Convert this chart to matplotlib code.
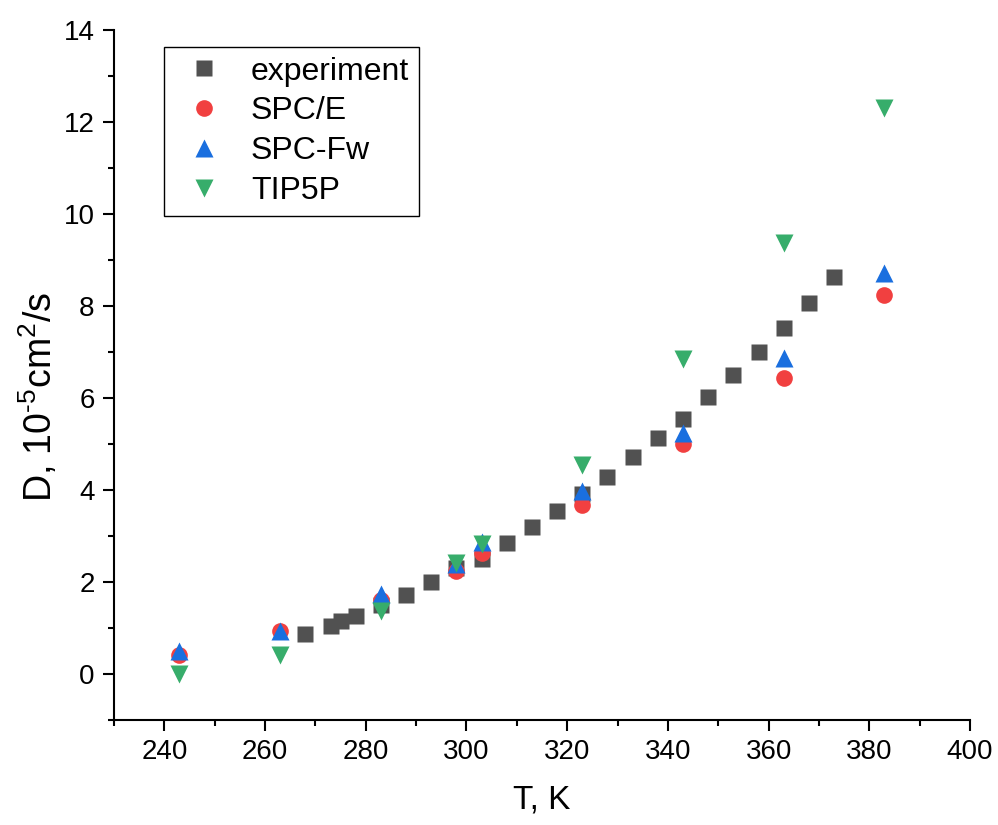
import matplotlib
matplotlib.use("Agg")
import matplotlib.pyplot as plt
from matplotlib.ticker import MultipleLocator

plt.rcParams['font.family'] = ['Liberation Sans', 'DejaVu Sans']
plt.rcParams['mathtext.fontset'] = 'custom'
plt.rcParams['mathtext.rm'] = 'Liberation Sans'

# experimental self-diffusion of water
T_exp = [268, 273, 275, 278, 283, 288, 293, 298, 303, 308, 313, 318,
         323, 328, 333, 338, 343, 348, 353, 358, 363, 368, 373]
D_exp = [0.87, 1.05, 1.16, 1.26, 1.50, 1.72, 1.99, 2.30, 2.51, 2.85, 3.20, 3.54,
         3.91, 4.29, 4.72, 5.12, 5.55, 6.03, 6.51, 7.00, 7.52, 8.06, 8.62]

# simulated models
T_sim = [243, 263, 283, 298, 303, 323, 343, 363, 383]
D_spce = [0.41, 0.93, 1.61, 2.24, 2.62, 3.67, 5.00, 6.44, 8.24]
D_spcfw = [0.50, 0.94, 1.75, 2.40, 2.87, 3.97, 5.25, 6.88, 8.71]
D_tip5p = [0.00, 0.41, 1.36, 2.42, 2.83, 4.55, 6.84, 9.36, 12.31]

fig = plt.figure(figsize=(9.98, 8.25), dpi=100)
ax = fig.add_axes([114 / 998, 1 - 720 / 825, (970 - 114) / 998, (720 - 30) / 825])

ax.plot(T_exp, D_exp, 's', color='#515151', ms=11.5, mec='none', label='experiment')
ax.plot(T_sim, D_spce, 'o', color='#F14040', ms=12, mec='none', label='SPC/E')
ax.plot(T_sim, D_spcfw, '^', color='#1A6FDF', ms=13, mec='none', label='SPC-Fw')
ax.plot(T_sim, D_tip5p, 'v', color='#37AD6B', ms=13, mec='none', label='TIP5P')

ax.set_xlim(230, 400)
ax.set_ylim(-1, 14)
ax.xaxis.set_major_locator(MultipleLocator(20))
ax.xaxis.set_minor_locator(MultipleLocator(10))
ax.yaxis.set_major_locator(MultipleLocator(2))
ax.yaxis.set_minor_locator(MultipleLocator(1))

for side in ['top', 'right']:
    ax.spines[side].set_visible(False)
for side in ['left', 'bottom']:
    ax.spines[side].set_linewidth(1.5)
ax.tick_params(which='major', direction='out', length=8, width=1.5, labelsize=20, pad=6)
ax.tick_params(which='minor', direction='out', length=4, width=1.5)

ax.set_xlabel('T, K', fontsize=24, labelpad=14)
ax.set_ylabel(r'D, 10$^{\text{-5}}$cm$^{\text{2}}$/s', fontsize=27)
ax.yaxis.set_label_coords(-0.063, 0.468)

leg = ax.legend(loc='upper left', bbox_to_anchor=(164 / 998, 1 - 47 / 825),
                bbox_transform=fig.transFigure, borderaxespad=0, numpoints=1,
                fontsize=23, fancybox=False, framealpha=1, edgecolor='black',
                borderpad=0.3, handlelength=1.9, handletextpad=0.52, labelspacing=0.31)
leg.get_frame().set_linewidth(1.0)

fig.savefig('out.png', dpi=100)
